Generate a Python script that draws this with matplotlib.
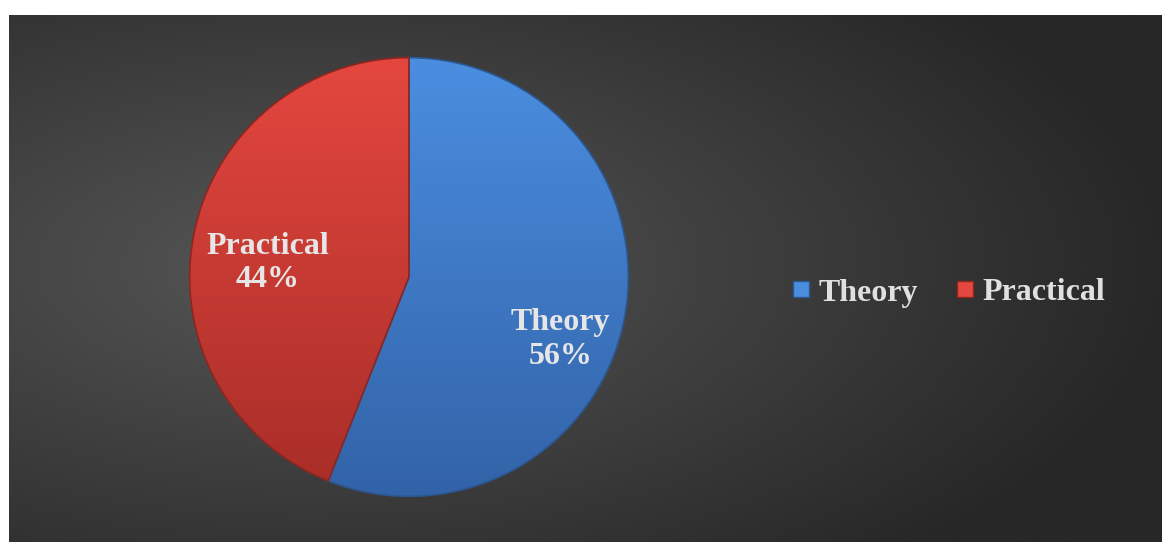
import numpy as np
import matplotlib.pyplot as plt
from matplotlib.patches import Patch

# data
labels = ["Theory", "Practical"]
shares = [56, 44]
top_colors = ["#4b8ee0", "#e4473f"]
bottom_colors = ["#3263a8", "#a82d28"]
edge_colors = ["#2c5690", "#8e2620"]

W, H = 1162, 542
fig = plt.figure(figsize=(W / 100, H / 100), dpi=100)
fig.patch.set_facecolor("white")

# dark background with a soft radial gradient
bg = fig.add_axes([9 / W, 0, (W - 9) / W, (H - 15) / H])
bg.set_axis_off()
yy, xx = np.mgrid[0:300, 0:600]
cx, cy = 300 * 0.52, 150 * 0.95
d = np.sqrt(((xx - cx) / 600) ** 2 + ((yy - cy) / 300) ** 2)
d = np.clip(d / 0.75, 0, 1)
lo, hi = np.array([0x56, 0x56, 0x56]), np.array([0x27, 0x27, 0x27])
img = (lo[None, None, :] * (1 - d[..., None]) + hi[None, None, :] * d[..., None]) / 255
bg.imshow(img, aspect="auto", extent=[0, 1, 0, 1], origin="upper")
bg.set_xlim(0, 1)
bg.set_ylim(0, 1)

# pie
ax = fig.add_axes([189 / W, 45 / H, 440 / W, 440 / H])
ax.set_aspect("equal")
wedges, texts = ax.pie(shares, startangle=90, counterclock=False, radius=1,
                       colors=top_colors,
                       wedgeprops=dict(linewidth=1.2))
ax.set_xlim(-1.003, 1.003)
ax.set_ylim(-1.003, 1.003)
ax.set_axis_off()

grad = np.linspace(0, 1, 256)[:, None]
for w, tc, bc, ec in zip(wedges, top_colors, bottom_colors, edge_colors):
    w.set_edgecolor(ec)
    t = np.array(plt.matplotlib.colors.to_rgb(tc))
    b = np.array(plt.matplotlib.colors.to_rgb(bc))
    g = t[None, None, :] * (1 - grad[..., None]) + b[None, None, :] * grad[..., None]
    g = np.repeat(g, 4, axis=1)
    im = ax.imshow(g, extent=[-1, 1, -1, 1], origin="upper", zorder=w.get_zorder() + 0.5)
    im.set_clip_path(w)
    w.set_facecolor("none")
    w.set_zorder(w.get_zorder() + 1)

# slice labels
label_pos = [(0.69, -0.285), (-0.645, 0.065)]
for lab, val, (x, y) in zip(labels, shares, label_pos):
    ax.text(x, y, f"{lab}\n{val}%", ha="center", va="center", color="#e6e6e6",
            fontsize=23, fontweight="bold", family="Liberation Serif",
            linespacing=1.2, zorder=10)

# legend
handles = [Patch(facecolor=c, edgecolor=e, linewidth=1) for c, e in zip(top_colors, edge_colors)]
fig.legend(handles, labels, loc="center", bbox_to_anchor=(949 / W, 1 - 293 / H),
           ncol=2, frameon=False, handlelength=0.5, handleheight=0.35,
           handletextpad=0.3, columnspacing=1.2,
           prop=dict(family="Liberation Serif", weight="bold", size=23),
           labelcolor="#e0e0e0")

fig.savefig("out.png", dpi=100, facecolor=fig.get_facecolor())
